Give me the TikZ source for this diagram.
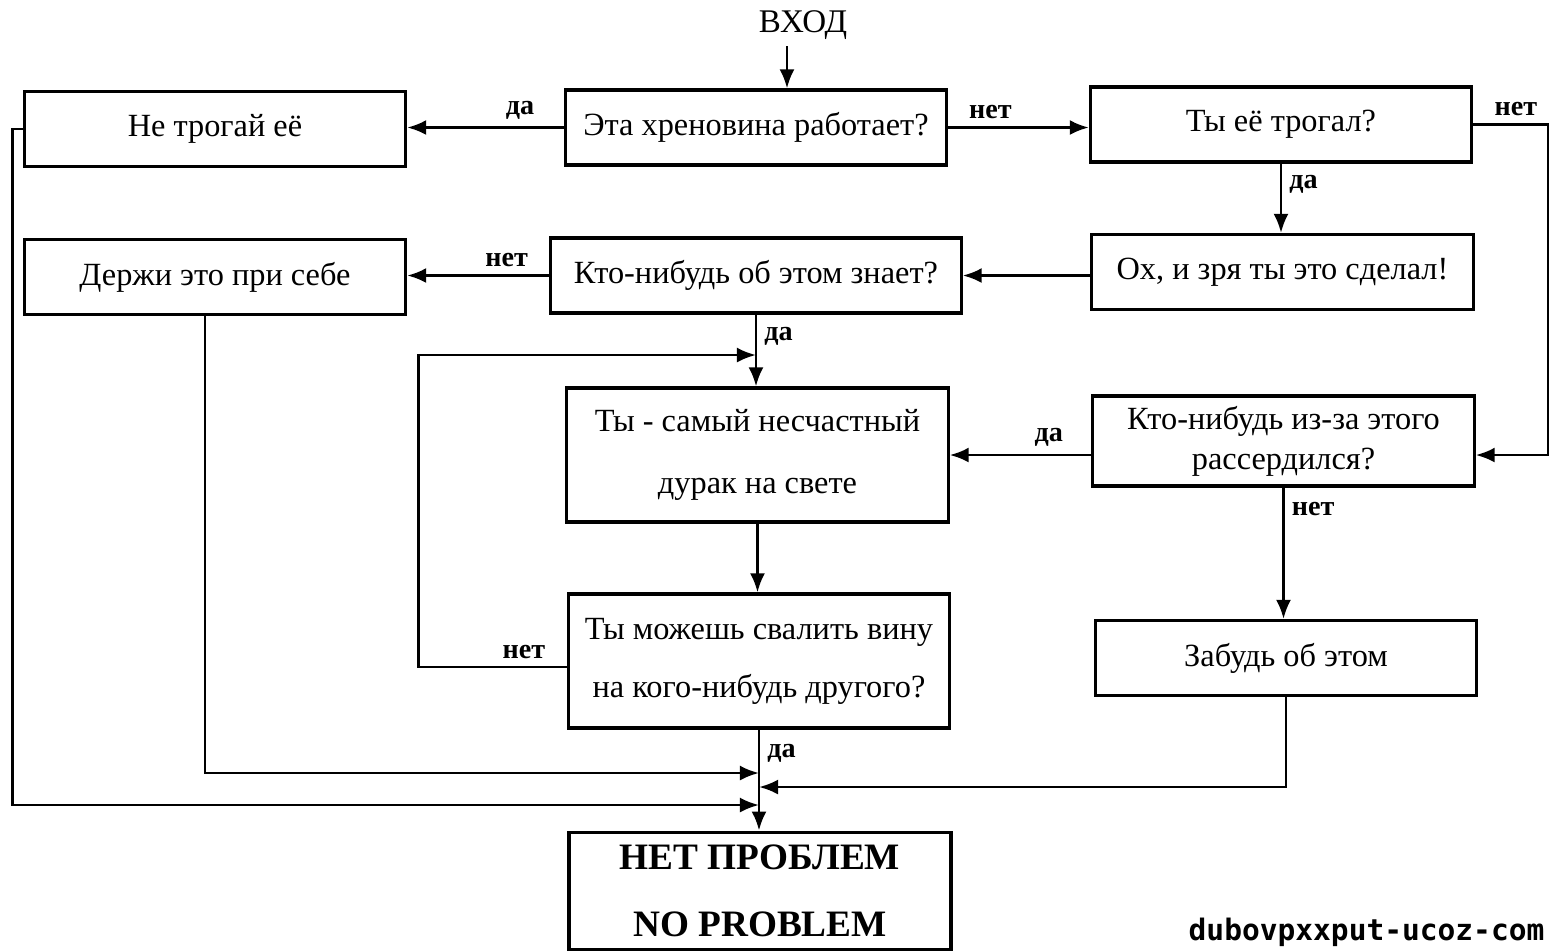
\documentclass[tikz,border=0pt]{standalone}
\usepackage{fontspec}
\setmainfont{Liberation Serif}
\newfontfamily\wmfont{DejaVu Sans Mono}
\usepackage{tikz}
\usetikzlibrary{arrows.meta, calc, positioning}
\tikzstyle{block} = [rectangle, draw, line width=0.9pt, inner sep=0pt,
    minimum width=3.81cm, minimum height=0.75cm, align=center,
    font=\fontsize{9.2}{11}\selectfont]
\tikzstyle{line} = [draw, line width=0.8pt, -{Latex[length=1.9mm, width=1.5mm]}]
\tikzstyle{answer} = [font=\bfseries\fontsize{8}{9}\selectfont, inner sep=2pt]

\begin{document}
\begin{tikzpicture}[x=0.01cm, y=-0.01cm,
    tallBox/.style={minimum height=1.34cm},
    twoLine/.style={font=\fontsize{9.2}{#1}\selectfont}
    ]
    \useasboundingbox (0,0) rectangle (1551,950);

    \node (entry) at (803,25) {\fontsize{9.4}{11}\selectfont ВХОД};
    \node[block] (works) at (756,127.5) {Эта хреновина работает?};
    \node[block] (nottouch) at (215,129) {Не трогай её};
    \node[block] (touched) at (1281,124.5) {Ты её трогал?};
    \node[block] (keep) at (215,277) {Держи это при себе};
    \node[block, minimum width=4.1cm] (knows) at (756,275.5) {Кто-нибудь об этом знает?};
    \node[block] (oops) at (1282.5,272) {Ох, и зря ты это сделал!};
    \node[block, tallBox, twoLine=17.6] (fool) at (757.5,455) {Ты - самый несчастный\\дурак на свете};
    \node[block, minimum height=0.9cm, twoLine=11.4] (angry) at (1283.5,441) {Кто-нибудь из-за этого\\рассердился?};
    \node[block, tallBox, twoLine=16.5] (blame) at (759,661) {Ты можешь свалить вину\\на кого-нибудь другого?};
    \node[block] (forget) at (1286,658) {Забудь об этом};
    \node[block, minimum height=1.17cm, line width=1.1pt,
        font=\bfseries\fontsize{10.6}{19}\selectfont] (noproblem) at (760,891) {НЕТ ПРОБЛЕМ\\NO PROBLEM};
    \node[anchor=base west, inner sep=0pt, font=\wmfont\bfseries\fontsize{8.4}{10}\selectfont]
        (site) at (1188,940) {dubovpxxput-ucoz-com};

    \coordinate (inpt) at (787,46);
    \coordinate (rside) at (1548,0);
    \coordinate (loopin) at (knows.south |- 0,355);
    \coordinate (join1) at (blame.south |- 0,773);
    \coordinate (join2) at (blame.south |- 0,787);
    \coordinate (join3) at (blame.south |- 0,805);

    \draw[line] (inpt) -- (inpt |- works.north);
    \draw[line] (works.west) -- node[answer, above, pos=0.28]{да} (works.west -| nottouch.east);
    \draw[line] (works.east) -- node[answer, above, pos=0.3]{нет} (works.east -| touched.west);
    \draw[line] (touched.east) -- node[answer, above, pos=0.57]{нет} (touched.east -| rside)
        |- ([yshift=-0.14cm]angry.east);
    \draw[line] (touched.south) -- node[answer, right, pos=0.3]{да} (touched.south |- oops.north);
    \draw[line] (oops.west |- knows.east) -- (knows.east);
    \draw[line] (knows.west) -- node[answer, above, pos=0.3]{нет} (knows.west -| keep.east);
    \draw[line] (knows.south) -- node[answer, right, pos=0.3]{да} (knows.south |- fool.north);
    \draw[line] ([yshift=-0.06cm]blame.west) -- node[answer, above, pos=0.29]{нет} ++(-148,0) |- (loopin);
    \draw[line] (angry.west |- fool.east) -- node[answer, above, pos=0.3]{да} (fool.east);
    \draw[line] (fool.south) -- (fool.south |- blame.north);
    \draw[line] (angry.south) -- node[answer, right, pos=0.16]{нет} (angry.south |- forget.north);
    \draw[line] (blame.south) -- node[answer, right, pos=0.23]{да} (blame.south |- noproblem.north);
    \draw[line] ([xshift=-0.1cm]keep.south) |- (join1);
    \draw[line] (forget.south) |- (join2);
    \draw[line] (nottouch.west) -- ++(-10,0) |- (join3);
\end{tikzpicture}
\end{document}
